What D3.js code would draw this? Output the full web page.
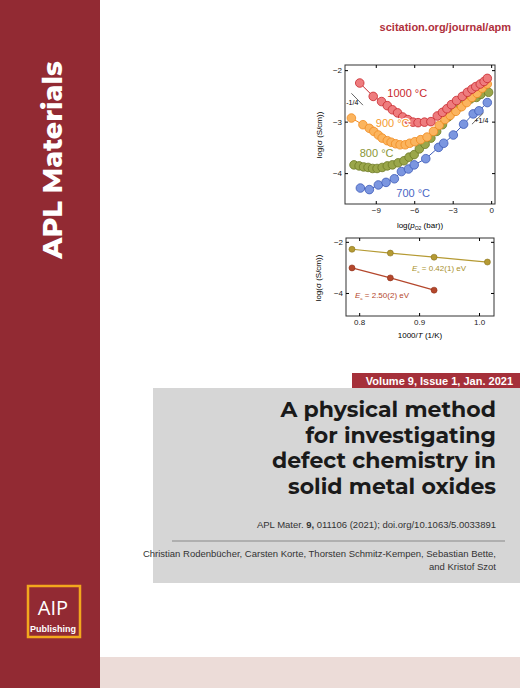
<!DOCTYPE html>
<html><head><meta charset="utf-8">
<script src="https://cdn.jsdelivr.net/npm/d3@7"></script>
<style>body{margin:0;background:#fff}svg{display:block}</style>
</head><body>
<script>
// pO2 sweep, log(sigma) per temperature
var xRed=[-10.25,-9.2,-8.55,-8.1,-7.7,-7.3,-6.9,-6.5,-6.1,-5.7,-5.2,-4.7,-4.2,-3.8,-3.45,-3.1,-2.7,-2.25,-1.85,-1.5,-1.2,-0.85,-0.55,-0.3];
var yRed=[-2.25,-2.51,-2.61,-2.69,-2.77,-2.83,-2.91,-2.96,-3.01,-3.02,-3.01,-3.0,-2.89,-2.82,-2.75,-2.67,-2.59,-2.51,-2.43,-2.37,-2.32,-2.27,-2.22,-2.16];
var xOrange=[-10.9,-10,-9.5,-9.15,-8.8,-8.5,-8.1,-7.8,-7.45,-7.1,-6.7,-6.35,-5.95,-5.5,-5.0,-4.5,-4.05,-3.6,-3.2,-2.75,-2.3,-1.9,-1.5,-1.1,-0.7,-0.3];
var yOrange=[-2.93,-3.06,-3.13,-3.19,-3.26,-3.32,-3.37,-3.40,-3.43,-3.45,-3.45,-3.42,-3.39,-3.35,-3.30,-3.19,-3.07,-2.96,-2.88,-2.80,-2.71,-2.63,-2.53,-2.45,-2.35,-2.27];
var xOlive=[-10.7,-10.3,-9.95,-9.6,-9.25,-8.9,-8.5,-8.1,-7.7,-7.25,-6.8,-6.4,-6.0,-5.6,-5.15,-4.7,-4.25,-3.8,-3.35,-2.9,-2.4,-2.05,-1.6,-1.15,-0.8,-0.2];
var yOlive=[-3.84,-3.86,-3.88,-3.89,-3.91,-3.91,-3.89,-3.86,-3.84,-3.80,-3.76,-3.69,-3.64,-3.53,-3.44,-3.32,-3.19,-3.06,-2.91,-2.80,-2.71,-2.61,-2.56,-2.53,-2.47,-2.43];
var xBlue=[-10.2,-9.5,-8.8,-8.2,-7.55,-7.0,-6.45,-6.0,-5.1,-4.1,-3.7,-2.95,-2.15,-1.4,-0.95,-0.3];
var yBlue=[-4.29,-4.32,-4.23,-4.18,-4.11,-3.97,-3.92,-3.84,-3.72,-3.50,-3.42,-3.26,-3.05,-2.85,-2.79,-2.63];
var tempLabels=["1000 °C","900 °C","800 °C","700 °C"];
var topXTicks=[-9,-6,-3,0];
var topYTicks=[-2,-3,-4];
// Arrhenius panel
var invT1=[0.788,0.852,0.925,1.014];
var logS1=[-2.29,-2.44,-2.60,-2.79];
var invT2=[0.788,0.852,0.925];
var logS2=[-3.02,-3.41,-3.89];
var botXTicks=[0.8,0.9,1.0];
var botYTicks=[-2,-4];

var W=520,H=688;
var svg=d3.select("body").append("svg").attr("width",W).attr("height",H);
var band="#922a33";
svg.append("rect").attr("width",W).attr("height",H).attr("fill","#fff");
svg.append("rect").attr("width",100).attr("height",H).attr("fill",band);
svg.append("rect").attr("x",100).attr("y",657).attr("width",420).attr("height",31).attr("fill","#ecdcd8");
svg.append("text").attr("transform","translate(62,160) rotate(-90)").attr("text-anchor","middle")
  .attr("font-family","Montserrat, 'Open Sans', sans-serif").attr("font-weight",800).attr("font-size",27)
  .attr("fill","#fff").text("APL Materials");
svg.append("text").attr("x",511).attr("y",31).attr("text-anchor","end").attr("font-family","'Liberation Sans', Arial")
  .attr("font-weight","bold").attr("font-size",11).attr("fill","#b0303c").text("scitation.org/journal/apm");
// AIP logo
svg.append("rect").attr("x",28).attr("y",586).attr("width",52).attr("height",51).attr("fill","none").attr("stroke","#f2a81d").attr("stroke-width",2.5);
svg.append("text").attr("x",53).attr("y",615).attr("text-anchor","middle").attr("font-family","'Open Sans', sans-serif")
  .attr("font-size",20).attr("fill","#fff").text("AIP");
svg.append("text").attr("x",53).attr("y",632).attr("text-anchor","middle").attr("font-family","'Liberation Sans Narrow','Liberation Sans', Arial")
  .attr("font-weight","bold").attr("font-size",9).attr("fill","#fff").text("Publishing");

// ---- top chart
var f="'Liberation Sans', Arial, sans-serif";
var g1=svg.append("g");
var x1=d3.scaleLinear().domain([-11.4,0.3]).range([345,495]);
var y1=d3.scaleLinear().domain([-1.9,-4.6]).range([65,204]);
g1.append("rect").attr("x",345).attr("y",65).attr("width",150).attr("height",139).attr("fill","none").attr("stroke","#333");
g1.append("g").attr("transform","translate(0,204)").call(d3.axisBottom(x1).tickValues(topXTicks).tickSize(-3).tickFormat(d3.format("d")));
g1.append("g").attr("transform","translate(0,65)").call(d3.axisTop(x1).tickValues(topXTicks).tickSize(-3).tickFormat(""));
g1.append("g").attr("transform","translate(345,0)").call(d3.axisLeft(y1).tickValues(topYTicks).tickSize(-3).tickFormat(d3.format("d")));
g1.append("g").attr("transform","translate(495,0)").call(d3.axisRight(y1).tickValues(topYTicks).tickSize(-3).tickFormat(""));
var series=[[xBlue,yBlue,"#7b96e0","#3d5bb8"],[xOlive,yOlive,"#9aa64a","#6d7a24"],[xOrange,yOrange,"#fbb45e","#f08a1f"],[xRed,yRed,"#ee7c7e","#c8282d"]];
series.forEach(function(s){
  var pts=s[0].map(function(v,i){return [x1(v),y1(s[1][i])];});
  g1.append("path").attr("d",d3.line()(pts)).attr("fill","none").attr("stroke",s[3]).attr("stroke-width",1);
  g1.selectAll(null).data(pts).enter().append("circle").attr("cx",function(d){return d[0];}).attr("cy",function(d){return d[1];})
    .attr("r",4.3).attr("fill",s[2]).attr("stroke",s[3]).attr("stroke-width",0.8);
});
var labPos=[[-8.1,-2.53,"#c8282d"],[-9.0,-3.1,"#f59a30"],[-10.25,-3.69,"#8a9636"],[-7.4,-4.46,"#4a66c4"]];
tempLabels.forEach(function(t,i){
  g1.append("text").attr("x",x1(labPos[i][0])).attr("y",y1(labPos[i][1])).attr("font-family",f).attr("font-size",11)
    .attr("fill",labPos[i][2]).attr("stroke","#fff").attr("stroke-width",2.5).attr("paint-order","stroke").text(t);
});
g1.append("line").attr("x1",x1(-10.9)).attr("y1",y1(-2.45)).attr("x2",x1(-10.0)).attr("y2",y1(-2.68)).attr("stroke","#666");
g1.append("text").attr("x",x1(-11.3)).attr("y",y1(-2.67)).attr("font-family",f).attr("font-size",7).text("-1/4");
g1.append("line").attr("x1",x1(-1.5)).attr("y1",y1(-3.05)).attr("x2",x1(-0.6)).attr("y2",y1(-2.83)).attr("stroke","#666");
g1.append("text").attr("x",x1(-1.3)).attr("y",y1(-3.02)).attr("font-family",f).attr("font-size",7).text("+1/4");
g1.append("text").attr("transform","translate(322,135) rotate(-90)").attr("text-anchor","middle").attr("font-family",f).attr("font-size",8).text("log(σ (S/cm))");
var xl=g1.append("text").attr("x",420).attr("y",228).attr("text-anchor","middle").attr("font-family",f).attr("font-size",8);
xl.append("tspan").text("log(");xl.append("tspan").attr("font-style","italic").text("p");
xl.append("tspan").attr("font-size",5).attr("dy",2).text("O2");xl.append("tspan").attr("dy",-2).text(" (bar))");

// ---- bottom chart
var g2=svg.append("g");
var x2=d3.scaleLinear().domain([0.778,1.025]).range([346,494]);
var y2=d3.scaleLinear().domain([-1.85,-4.9]).range([238,316]);
g2.append("rect").attr("x",346).attr("y",238).attr("width",148).attr("height",78).attr("fill","none").attr("stroke","#333");
g2.append("g").attr("transform","translate(0,316)").call(d3.axisBottom(x2).tickValues(botXTicks).tickSize(-3).tickFormat(d3.format(".1f")));
g2.append("g").attr("transform","translate(0,238)").call(d3.axisTop(x2).tickValues(botXTicks).tickSize(-3).tickFormat(""));
g2.append("g").attr("transform","translate(346,0)").call(d3.axisLeft(y2).tickValues(botYTicks).tickSize(-3).tickFormat(d3.format("d")));
g2.append("g").attr("transform","translate(494,0)").call(d3.axisRight(y2).tickValues(botYTicks).tickSize(-3).tickFormat(""));
[[invT1,logS1,"#b59a33","#8a7420"],[invT2,logS2,"#b4472c","#8e2f18"]].forEach(function(s){
  var pts=s[0].map(function(v,i){return [x2(v),y2(s[1][i])];});
  g2.append("path").attr("d",d3.line()(pts)).attr("fill","none").attr("stroke",s[2]).attr("stroke-width",1.2);
  g2.selectAll(null).data(pts).enter().append("circle").attr("cx",function(d){return d[0];}).attr("cy",function(d){return d[1];})
    .attr("r",3).attr("fill",s[2]).attr("stroke",s[3]).attr("stroke-width",0.6);
});
var e1=g2.append("text").attr("x",412).attr("y",271).attr("font-family",f).attr("font-size",8).attr("fill","#a88f2a");
e1.append("tspan").attr("font-style","italic").text("E");e1.append("tspan").attr("font-size",4).attr("dy",1.5).text("a");
e1.append("tspan").attr("dy",-1.5).text(" = 0.42(1) eV");
var e2=g2.append("text").attr("x",355).attr("y",298).attr("font-family",f).attr("font-size",8).attr("fill","#b4472c");
e2.append("tspan").attr("font-style","italic").text("E");e2.append("tspan").attr("font-size",4).attr("dy",1.5).text("a");
e2.append("tspan").attr("dy",-1.5).text(" = 2.50(2) eV");
g2.append("text").attr("transform","translate(321,278) rotate(-90)").attr("text-anchor","middle").attr("font-family",f).attr("font-size",8).text("log(σ (S/cm))");
var xl2=g2.append("text").attr("x",420).attr("y",338).attr("text-anchor","middle").attr("font-family",f).attr("font-size",8);
xl2.append("tspan").text("1000/");xl2.append("tspan").attr("font-style","italic").text("T");xl2.append("tspan").text(" (1/K)");
svg.selectAll(".tick text").attr("font-family",f).attr("font-size",8).attr("fill","#222");
svg.selectAll(".domain").remove();

// ---- banner and title
svg.append("rect").attr("x",352).attr("y",373).attr("width",168).attr("height",15).attr("fill","#a5303a");
svg.append("text").attr("x",513).attr("y",385).attr("text-anchor","end").attr("font-family",f).attr("font-weight","bold").attr("font-size",11).attr("fill","#fff").text("Volume 9, Issue 1, Jan. 2021");
svg.append("rect").attr("x",153).attr("y",388).attr("width",367).attr("height",195).attr("fill","#d6d6d6");
var title=["A physical method","for investigating","defect chemistry in","solid metal oxides"];
svg.selectAll(null).data(title).enter().append("text").attr("x",496).attr("y",function(d,i){return 417+i*25.5;})
  .attr("text-anchor","end").attr("font-family","Montserrat, 'Open Sans', sans-serif").attr("font-weight",700).attr("font-size",22).attr("fill","#1a1a1a").text(function(d){return d;});
var cit=svg.append("text").attr("x",496).attr("y",528).attr("text-anchor","end").attr("font-family",f).attr("font-size",9.5).attr("fill","#333");
cit.append("tspan").text("APL Mater. ");cit.append("tspan").attr("font-weight","bold").text("9,");cit.append("tspan").text(" 011106 (2021); doi.org/10.1063/5.0033891");
svg.append("line").attr("x1",172).attr("x2",505).attr("y1",541).attr("y2",541).attr("stroke","#888").attr("stroke-width",1.2);
svg.append("text").attr("x",496).attr("y",557).attr("text-anchor","end").attr("font-family",f).attr("font-size",9.5).attr("fill","#333").text("Christian Rodenbücher, Carsten Korte, Thorsten Schmitz-Kempen, Sebastian Bette,");
svg.append("text").attr("x",496).attr("y",570).attr("text-anchor","end").attr("font-family",f).attr("font-size",9.5).attr("fill","#333").text("and Kristof Szot");
</script>
</body></html>
